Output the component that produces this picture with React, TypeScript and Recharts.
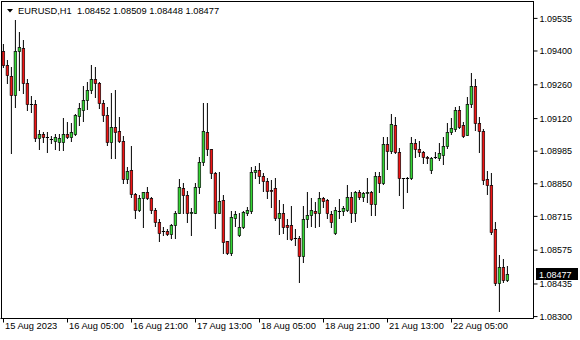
import React from 'react';
import { ComposedChart, Bar, XAxis, YAxis, ReferenceLine } from 'recharts';

// EURUSD H1 bars, 15 Aug 13:00 -> 22 Aug 19:00 (server time)
const opens = [
  1.09402, 1.09344, 1.09295, 1.09216, 1.09402, 1.09411, 1.09266, 1.09179, 1.09179, 1.09038,
  1.09058, 1.09042, 1.09034, 1.09029, 1.09025, 1.09025, 1.09058, 1.09042, 1.09058, 1.09129,
  1.09154, 1.09195, 1.09237, 1.09282, 1.09266, 1.09183, 1.09133, 1.09021, 1.09087, 1.09067,
  1.09029, 1.08868, 1.08909, 1.08806, 1.08743, 1.08793, 1.08814, 1.08793, 1.08743, 1.08690,
  1.08656, 1.08656, 1.08640, 1.08681, 1.08731, 1.08831, 1.08802, 1.08727, 1.08731, 1.08835,
  1.08942, 1.09063, 1.08992, 1.08893, 1.08731, 1.08781, 1.08611, 1.08565, 1.08710, 1.08636,
  1.08669, 1.08731, 1.08739, 1.08897, 1.08909, 1.08884, 1.08860, 1.08826, 1.08831, 1.08710,
  1.08731, 1.08681, 1.08681, 1.08627, 1.08627, 1.08549, 1.08706, 1.08719, 1.08739, 1.08727,
  1.08793, 1.08781, 1.08723, 1.08648, 1.08739, 1.08739, 1.08743, 1.08797, 1.08727, 1.08814,
  1.08797, 1.08810, 1.08814, 1.08768, 1.08884, 1.08855, 1.09013, 1.08984, 1.09092, 1.08980,
  1.08872, 1.08876, 1.08872, 1.09017, 1.08992, 1.08980, 1.08959, 1.08909, 1.08959, 1.08955,
  1.08971, 1.09005, 1.09063, 1.09075, 1.09154, 1.09092, 1.09054, 1.09179, 1.09257, 1.09100,
  1.09067, 1.08868, 1.08847, 1.08661, 1.08437, 1.08507, 1.08452,
];
const highs = [
  1.09431, 1.09361, 1.09332, 1.09527, 1.09477, 1.09444, 1.09286, 1.09212, 1.09195, 1.09071,
  1.09063, 1.09063, 1.09046, 1.09058, 1.09058, 1.09121, 1.09104, 1.09100, 1.09141, 1.09183,
  1.09257, 1.09270, 1.09344, 1.09332, 1.09270, 1.09195, 1.09166, 1.09228, 1.09237, 1.09125,
  1.09046, 1.08918, 1.09005, 1.08810, 1.08802, 1.08818, 1.08835, 1.08797, 1.08748, 1.08706,
  1.08673, 1.08661, 1.08685, 1.08739, 1.08868, 1.08855, 1.08822, 1.08748, 1.08855, 1.08959,
  1.09183, 1.09183, 1.08996, 1.08897, 1.08897, 1.08802, 1.08615, 1.08739, 1.08739, 1.08731,
  1.08739, 1.08752, 1.08918, 1.08922, 1.08938, 1.08893, 1.08872, 1.08864, 1.08872, 1.08781,
  1.08768, 1.08706, 1.08760, 1.08661, 1.08632, 1.08760, 1.08814, 1.08793, 1.08773, 1.08814,
  1.08797, 1.08785, 1.08739, 1.08752, 1.08785, 1.08756, 1.08843, 1.08814, 1.08822, 1.08826,
  1.08818, 1.08872, 1.08822, 1.08897, 1.08897, 1.09042, 1.09042, 1.09137, 1.09125, 1.09000,
  1.08876, 1.08880, 1.09042, 1.09034, 1.09029, 1.08984, 1.08963, 1.08959, 1.08980, 1.09017,
  1.09042, 1.09100, 1.09121, 1.09166, 1.09174, 1.09104, 1.09208, 1.09307, 1.09286, 1.09125,
  1.09075, 1.08905, 1.08893, 1.08690, 1.08553, 1.08540, 1.08509,
];
const lows = [
  1.09332, 1.09266, 1.08976, 1.09166, 1.09237, 1.09228, 1.09154, 1.09146, 1.09029, 1.08992,
  1.09021, 1.08980, 1.09017, 1.08996, 1.08988, 1.08988, 1.09038, 1.09029, 1.09054, 1.09092,
  1.09112, 1.09158, 1.09224, 1.09208, 1.09162, 1.09112, 1.09009, 1.08955, 1.08955, 1.09021,
  1.08855, 1.08855, 1.08797, 1.08710, 1.08739, 1.08669, 1.08789, 1.08727, 1.08677, 1.08615,
  1.08636, 1.08636, 1.08627, 1.08627, 1.08727, 1.08731, 1.08690, 1.08636, 1.08727, 1.08810,
  1.08926, 1.08971, 1.08872, 1.08665, 1.08727, 1.08565, 1.08561, 1.08557, 1.08677, 1.08632,
  1.08665, 1.08719, 1.08731, 1.08872, 1.08855, 1.08822, 1.08793, 1.08752, 1.08698, 1.08640,
  1.08648, 1.08623, 1.08619, 1.08598, 1.08445, 1.08524, 1.08669, 1.08677, 1.08673, 1.08677,
  1.08752, 1.08710, 1.08673, 1.08644, 1.08710, 1.08719, 1.08739, 1.08690, 1.08694, 1.08789,
  1.08777, 1.08773, 1.08719, 1.08719, 1.08814, 1.08851, 1.08913, 1.08976, 1.08976, 1.08802,
  1.08748, 1.08814, 1.08868, 1.08959, 1.08967, 1.08938, 1.08938, 1.08893, 1.08955, 1.08947,
  1.08934, 1.09000, 1.09058, 1.09067, 1.09079, 1.09042, 1.09050, 1.09170, 1.09071, 1.08980,
  1.08851, 1.08806, 1.08644, 1.08429, 1.08321, 1.08445, 1.08448,
];
const closes = [
  1.09344, 1.09299, 1.09216, 1.09402, 1.09415, 1.09266, 1.09179, 1.09179, 1.09038, 1.09058,
  1.09042, 1.09042, 1.09034, 1.09042, 1.09038, 1.09058, 1.09042, 1.09063, 1.09133, 1.09162,
  1.09195, 1.09237, 1.09282, 1.09266, 1.09183, 1.09133, 1.09021, 1.09087, 1.09063, 1.09029,
  1.08868, 1.08905, 1.08806, 1.08743, 1.08793, 1.08814, 1.08793, 1.08743, 1.08690, 1.08648,
  1.08656, 1.08640, 1.08681, 1.08731, 1.08835, 1.08802, 1.08727, 1.08735, 1.08835, 1.08942,
  1.09067, 1.08996, 1.08893, 1.08731, 1.08777, 1.08607, 1.08565, 1.08714, 1.08723, 1.08673,
  1.08735, 1.08743, 1.08897, 1.08909, 1.08884, 1.08860, 1.08822, 1.08822, 1.08710, 1.08727,
  1.08669, 1.08669, 1.08623, 1.08627, 1.08549, 1.08706, 1.08719, 1.08743, 1.08727, 1.08793,
  1.08777, 1.08727, 1.08690, 1.08743, 1.08739, 1.08748, 1.08797, 1.08727, 1.08814, 1.08797,
  1.08810, 1.08814, 1.08768, 1.08884, 1.08855, 1.09013, 1.08984, 1.09096, 1.08980, 1.08872,
  1.08872, 1.08872, 1.09017, 1.08992, 1.08980, 1.08959, 1.08955, 1.08955, 1.08959, 1.08976,
  1.09005, 1.09063, 1.09079, 1.09154, 1.09087, 1.09046, 1.09179, 1.09257, 1.09100, 1.09067,
  1.08864, 1.08847, 1.08652, 1.08437, 1.08507, 1.08453, 1.08477,
];

const priceTicks = [1.09535, 1.094, 1.0926, 1.0912, 1.08985, 1.0885, 1.08715, 1.08575, 1.08435, 1.083];
const timeTickIdx = [0, 16, 32, 48, 64, 80, 96, 112];
const timeTickText = [
  '15 Aug 2023', '16 Aug 05:00', '16 Aug 21:00', '17 Aug 13:00',
  '18 Aug 05:00', '18 Aug 21:00', '21 Aug 13:00', '22 Aug 05:00',
];
const symbol = 'EURUSD,H1';

const UP = '#34d634';
const DOWN = '#f01414';
const FONT = '"Liberation Sans", Arial, sans-serif';

const data = opens.map((o, i) => ({
  t: i,
  o,
  h: highs[i],
  l: lows[i],
  c: closes[i],
  range: [lows[i], highs[i]],
}));

const last = data[data.length - 1];

const Candle = (props: any) => {
  const { x, y, width, height, payload } = props;
  if (!payload || !height) return null;
  const { o, h, l, c } = payload;
  const k = height / (h - l);
  const py = (p: number) => y + (h - p) * k;
  const cx = x + width / 2;
  const top = Math.round(py(Math.max(o, c)));
  const bot = Math.round(py(Math.min(o, c)));
  const hi = Math.round(py(h));
  const lo = Math.round(py(l));
  return (
    <g>
      <line x1={cx} x2={cx} y1={hi} y2={lo + 1} stroke="#000" strokeWidth={1} />
      {bot > top ? (
        <rect
          x={cx - 1.3}
          y={top + 0.5}
          width={2.6}
          height={bot - top}
          fill={c >= o ? UP : DOWN}
          stroke="#000"
          strokeWidth={0.65}
        />
      ) : (
        <line x1={cx - 1.6} x2={cx + 1.6} y1={top + 0.5} y2={top + 0.5} stroke="#000" strokeWidth={1} />
      )}
    </g>
  );
};

const TimeTick = (props: any) => {
  const { x, y, payload } = props;
  const k = timeTickIdx.indexOf(payload.value);
  if (k < 0) return <g />;
  return (
    <g>
      <line x1={x} x2={x} y1={y - 6} y2={y - 2} stroke="#000" />
      <text x={x + 1.5} y={y + 4} fontSize={9.3} fontFamily={FONT} fill="#000">
        {timeTickText[k]}
      </text>
    </g>
  );
};

const PriceTag = (props: any) => {
  const vb = props.viewBox || {};
  const x0 = vb.x + vb.width + 2.5;
  const yc = Math.round(vb.y);
  return (
    <g>
      <rect x={x0} y={yc - 6} width={42} height={12} fill="#000" />
      <text x={x0 + 3} y={yc + 3.5} fontSize={9} fontFamily={FONT} fill="#fff">
        {last.c.toFixed(5)}
      </text>
    </g>
  );
};

export default function App() {
  return (
    <div style={{ position: 'absolute', left: 0, top: 0, width: 580, height: 340, background: '#fff' }}>
      <ComposedChart
        width={580}
        height={340}
        data={data}
        margin={{ top: 1.5, right: 0.5, bottom: 1.5, left: 0.5 }}
      >
        <XAxis
          dataKey="t"
          type="category"
          interval={0}
          height={20}
          padding={{ left: 1, right: 24 }}
          axisLine={{ stroke: '#000' }}
          tickLine={false}
          tickSize={4}
          tickMargin={2}
          tick={<TimeTick />}
        />
        <YAxis
          orientation="right"
          width={46}
          domain={[1.08292, 1.09605]}
          allowDataOverflow
          ticks={priceTicks}
          interval={0}
          tickFormatter={(v: number) => v.toFixed(5)}
          axisLine={{ stroke: '#000' }}
          tickLine={{ stroke: '#000' }}
          tickSize={4}
          tickMargin={2}
          tick={{ fill: '#000', fontSize: 9, fontFamily: FONT }}
        />
        <Bar dataKey="range" shape={<Candle />} isAnimationActive={false} />
        <ReferenceLine y={last.c} stroke="none" label={<PriceTag />} />
      </ComposedChart>
      <div style={{ position: 'absolute', left: 1, top: 1, width: 533, height: 1, background: '#000' }} />
      <div style={{ position: 'absolute', left: 1, top: 1, width: 1, height: 318, background: '#000' }} />
      <svg style={{ position: 'absolute', left: 0, top: 0 }} width={300} height={20}>
        <polygon points="7,9 13,9 10,12.5" fill="#000" />
        <text x={18} y={14} fontSize={9.3} fontFamily={FONT} fill="#000" style={{ whiteSpace: 'pre' }}>
          {`${symbol}  ${last.o.toFixed(5)} ${last.h.toFixed(5)} ${last.l.toFixed(5)} ${last.c.toFixed(5)}`}
        </text>
      </svg>
    </div>
  );
}
